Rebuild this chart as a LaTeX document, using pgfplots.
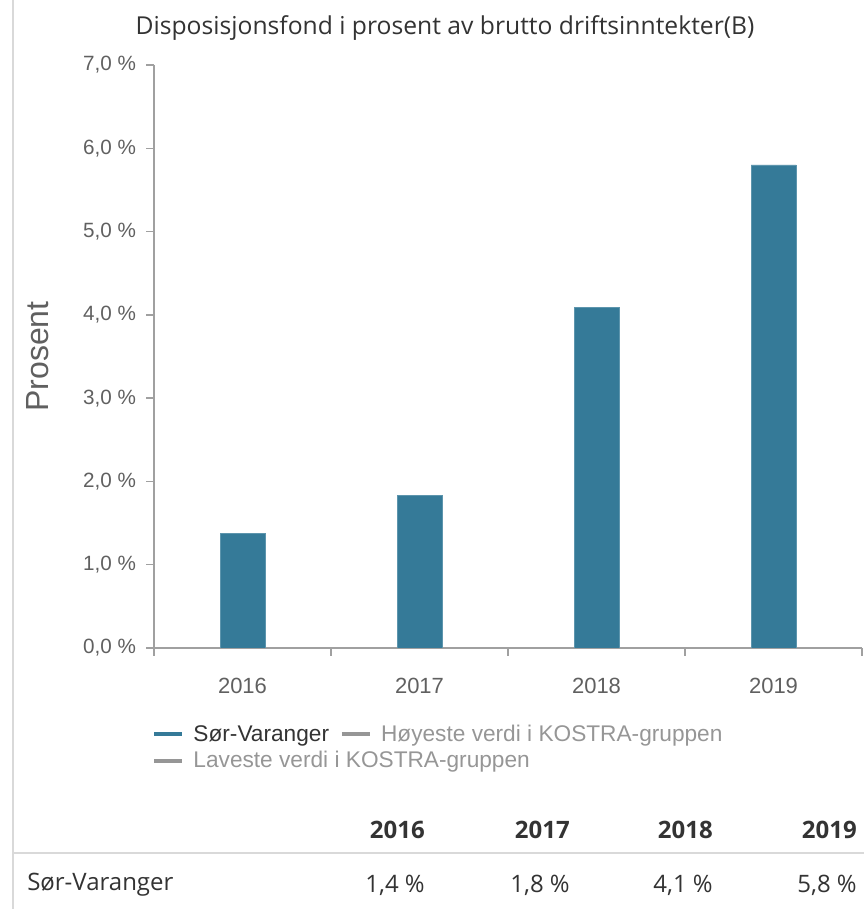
\documentclass[border=0pt]{standalone}
\usepackage{pgfplots}
\pgfplotsset{compat=1.18}
\usepackage{fontspec}
\setmainfont{Liberation Sans}
\newfontfamily\opensans{Open Sans}
\definecolor{barblue}{RGB}{53,122,152}
\definecolor{axisgray}{RGB}{160,160,160}
\definecolor{ticktext}{RGB}{96,96,96}
\definecolor{legray}{RGB}{150,150,150}
\definecolor{titletext}{RGB}{51,51,51}

\begin{document}
\begin{tikzpicture}[x=0.75pt,y=0.75pt]
\useasboundingbox (0,0) rectangle (864,909);
% left frame line
\draw[gray!30, line width=1.5pt] (13,0) -- (13,909);
% title
\node[font=\opensans\fontsize{18.5}{21}\selectfont, text=titletext] at (445,881) {Disposisjonsfond i prosent av brutto driftsinntekter(B)};

\begin{axis}[
  at={(115.5pt,195.75pt)}, anchor=south west,
  scale only axis,
  width=531pt, height=437.25pt,
  xmin=-0.5, xmax=3.5,
  ymin=0, ymax=7,
  axis x line=bottom, axis y line=left,
  axis line style={axisgray, line width=1.2pt, -},
  xtick={-0.5,0.5,1.5,2.5,3.5},
  xticklabels={},
  extra x ticks={0,1,2,3},
  extra x tick labels={2016,2017,2018,2019},
  extra x tick style={major tick length=0pt, xticklabel style={yshift=-19pt, font=\fontsize{16.5}{19}\selectfont}},
  ytick={0,1,...,7},
  tick align=outside,
  major tick length=6pt,
  tick style={axisgray, line width=1pt},
  yticklabel={\pgfmathprintnumber[fixed, fixed zerofill, precision=1, use comma]{\tick}~\%},
  /pgf/number format/assume math mode=true,
  ticklabel style={font=\fontsize{15.5}{18}\selectfont, text=ticktext},
  yticklabel style={xshift=-4pt},
  ylabel={Prosent},
  ylabel style={at={(axis description cs:-0.164,0.5)}, anchor=center, font=\fontsize{24}{28}\selectfont, text=ticktext},
  legend style={at={(axis description cs:-0.003,-0.127)}, anchor=north west,
    draw=none, fill=none, font=\fontsize{17}{19}\selectfont,
    inner sep=0pt, row sep=2pt,
    /tikz/every odd column/.append style={column sep=5pt},
    /tikz/every even column/.append style={column sep=6pt}},
  legend columns=2,
  legend cell align=left,
  legend image code/.code={\draw[#1, line width=3pt] (0pt,0pt) -- (21pt,0pt);},
]
\addplot[ybar, bar width=33.75pt, fill=barblue, draw=barblue!80!white, forget plot]
  coordinates {(0,1.38) (1,1.83) (2,4.09) (3,5.80)};
\addlegendimage{barblue}
\addlegendentry{\textcolor{titletext}{Sør-Varanger}}
\addlegendimage{legray}
\addlegendentry{\textcolor{legray}{Høyeste verdi i KOSTRA-gruppen}}
\addlegendimage{legray}
\addlegendentry{\makebox[0pt][l]{\textcolor{legray}{Laveste verdi i KOSTRA-gruppen}}}
\end{axis}

% data table under the chart
\begin{scope}[every node/.style={font=\opensans\fontsize{18}{21}\selectfont, text=titletext, inner sep=0pt}]
\node[anchor=east, font=\opensans\bfseries\fontsize{18}{21}\selectfont] at (425,79) {2016};
\node[anchor=east, font=\opensans\bfseries\fontsize{18}{21}\selectfont] at (570,79) {2017};
\node[anchor=east, font=\opensans\bfseries\fontsize{18}{21}\selectfont] at (713,79) {2018};
\node[anchor=east, font=\opensans\bfseries\fontsize{18}{21}\selectfont] at (857,79) {2019};
\draw[gray!30, line width=1.2pt] (13,56) -- (864,56);
\node[anchor=west] at (27,24) {Sør-Varanger};
\node[anchor=east] at (425,24) {1,4 \%};
\node[anchor=east] at (570,24) {1,8 \%};
\node[anchor=east] at (713,24) {4,1 \%};
\node[anchor=east] at (857,24) {5,8 \%};
\end{scope}
\end{tikzpicture}
\end{document}
